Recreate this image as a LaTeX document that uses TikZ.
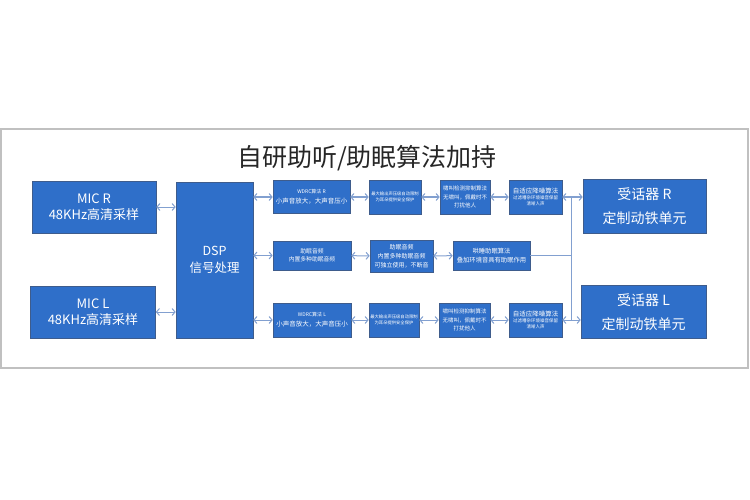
\documentclass[tikz,border=0pt]{standalone}
\usepackage{fontspec}
\setmainfont{Noto Sans CJK SC}
\usetikzlibrary{arrows.meta}
\definecolor{boxblue}{RGB}{47,111,201}
\definecolor{boxedge}{RGB}{62,92,140}
\definecolor{linkblue}{RGB}{130,160,208}
\definecolor{framegray}{RGB}{192,192,192}
\definecolor{titlegray}{RGB}{38,38,38}
\newcommand{\pxfont}[1]{\fontsize{#1}{#1}\selectfont}
\tikzset{
  blk/.style={fill=boxblue, draw=boxedge, line width=0.6pt, text=white, align=center, inner sep=0pt},
  link/.style={draw=linkblue, line width=1pt, {Straight Barb[length=3pt,width=7pt]}-{Straight Barb[length=3pt,width=7pt]}},
  bus/.style={draw=linkblue, line width=1pt},
}

\begin{document}
\begin{tikzpicture}[x=1pt, y=-1pt]
    \useasboundingbox (0,0) rectangle (750,500);
    % frame and title
    \draw[framegray, line width=1.6pt] (1,129) rectangle (748,368);
    \node[text=titlegray, font=\pxfont{25}] (title) at (367,158) {自研助听/助眠算法加持};

    % inputs, DSP, outputs
    \node[blk, minimum width=124pt, minimum height=52pt, font=\pxfont{13}] (micR) at (94,207) {MIC R\\[3pt]48KHz高清采样};
    \node[blk, minimum width=125pt, minimum height=52pt, font=\pxfont{13}] (micL) at (93,312) {MIC L\\[3pt]48KHz高清采样};
    \node[blk, minimum width=77pt, minimum height=156pt, font=\pxfont{12.5}] (dsp) at (214.5,260) {DSP\\[5pt]信号处理};
    \node[blk, minimum width=123pt, minimum height=54pt, font=\pxfont{14}] (rcvR) at (644.5,206) {受话器 R\\[10pt]定制动铁单元};
    \node[blk, minimum width=125pt, minimum height=53pt, font=\pxfont{14}] (rcvL) at (643.5,312) {受话器 L\\[10pt]定制动铁单元};

    % row R
    \node[blk, minimum width=77pt, minimum height=33pt, font=\pxfont{5}] (r1a) at (311.5,197) {WDRC算法 R\\[3pt]{\pxfont{6.5}小声音放大，大声音压小}};
    \node[blk, minimum width=52pt, minimum height=34pt, font=\pxfont{4.3}] (r1b) at (395,197) {最大输出声压级自动限制\\[1.5pt]为耳朵提供安全保护};
    \node[blk, minimum width=50pt, minimum height=34pt, font=\pxfont{5.5}] (r1c) at (465,197) {啸叫检测抑制算法\\[3pt]无啸叫，佩戴时不\\[3pt]打扰他人};
    \node[blk, minimum width=53pt, minimum height=34pt, font=\pxfont{4.5}] (r1d) at (535.5,197) {{\pxfont{6.5}自适应降噪算法}\\[1.5pt]过滤嘈杂环境噪音保留\\[1pt]清晰人声};

    % row sleep
    \node[blk, minimum width=78pt, minimum height=29pt, font=\pxfont{5.8}] (r2a) at (312,255.5) {助眠音频\\[2pt]内置多种助眠音频};
    \node[blk, minimum width=63pt, minimum height=32pt, font=\pxfont{6}] (r2b) at (401.5,256) {助眠音频\\[3pt]内置多种助眠音频\\[3pt]可独立使用，不断音};
    \node[blk, minimum width=77pt, minimum height=29pt, font=\pxfont{6.3}] (r2c) at (491.5,255.5) {哄睡助眠算法\\[3pt]叠加环境音具有助眠作用};

    % row L
    \node[blk, minimum width=78pt, minimum height=34pt, font=\pxfont{5}] (r3a) at (312,320) {WDRC算法 L\\[3pt]{\pxfont{6.5}小声音放大，大声音压小}};
    \node[blk, minimum width=50pt, minimum height=34pt, font=\pxfont{4.3}] (r3b) at (394,320) {最大输出声压级自动限制\\[1.5pt]为耳朵提供安全保护};
    \node[blk, minimum width=51pt, minimum height=34pt, font=\pxfont{5.5}] (r3c) at (464.5,320) {啸叫检测抑制算法\\[3pt]无啸叫，佩戴时不\\[3pt]打扰他人};
    \node[blk, minimum width=53pt, minimum height=34pt, font=\pxfont{4.5}] (r3d) at (535.5,320) {{\pxfont{6.5}自适应降噪算法}\\[1.5pt]过滤嘈杂环境噪音保留\\[1pt]清晰人声};

    % bus to the receivers
    \coordinate (busT) at (571,197);
    \coordinate (busB) at (571,320);
    \draw[bus] (busT) -- (busB);
    \draw[bus] (r2c.east) -- (r2c.east -| busT);

    % links
    \draw[link] (micR.east) -- (micR.east -| dsp.west);
    \draw[link] (micL.east) -- (micL.east -| dsp.west);
    \draw[link] (r1a.west -| dsp.east) -- (r1a.west);
    \draw[link] (r2a.west -| dsp.east) -- (r2a.west);
    \draw[link] (r3a.west -| dsp.east) -- (r3a.west);
    \draw[link] (r1a) -- (r1b);
    \draw[link] (r1b) -- (r1c);
    \draw[link] (r1c) -- (r1d);
    \draw[link] (r2a) -- (r2b);
    \draw[link] (r2b) -- (r2c);
    \draw[link] (r3a) -- (r3b);
    \draw[link] (r3b) -- (r3c);
    \draw[link] (r3c) -- (r3d);
    \draw[link] (r1d.east) -- (r1d.east -| rcvR.west);
    \draw[link] (r3d.east) -- (r3d.east -| rcvL.west);
\end{tikzpicture}
\end{document}
